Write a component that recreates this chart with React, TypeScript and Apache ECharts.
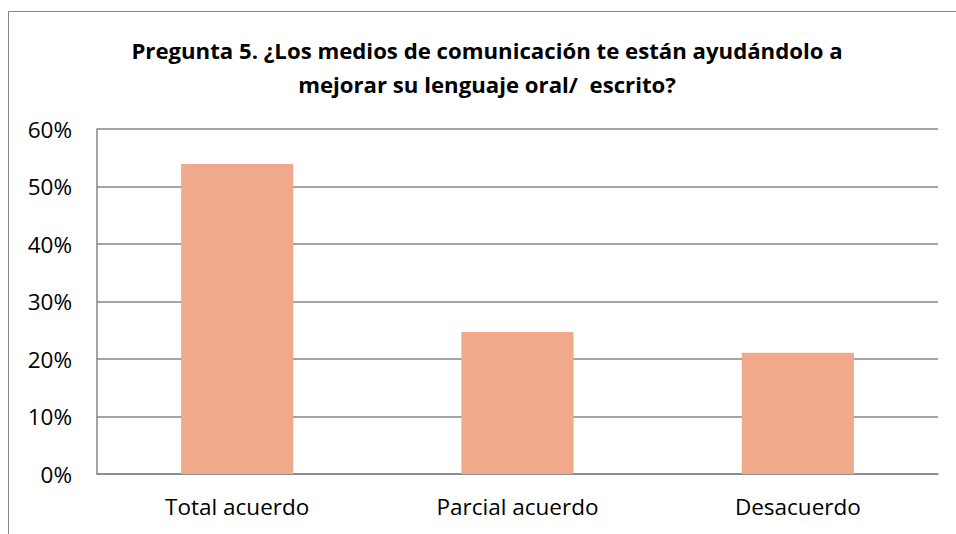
import React, { useEffect, useRef } from "react";
import * as echarts from "echarts";

const categories = ["Total acuerdo", "Parcial acuerdo", "Desacuerdo"];
const values = [53.9, 24.7, 21.1];
const titleText = "Pregunta 5. ¿Los medios de comunicación te están ayudándolo a\nmejorar su lenguaje oral/  escrito?";

export default function App() {
  const ref = useRef<HTMLDivElement>(null);
  useEffect(() => {
    if (!ref.current) return;
    const chart = echarts.init(ref.current, null, { renderer: "svg" });
    chart.setOption({
      animation: false,
      backgroundColor: "#ffffff",
      textStyle: { fontFamily: "Open Sans" },
      graphic: [
        {
          type: "rect",
          shape: { x: 8.5, y: 11.5, width: 1000, height: 600 },
          style: { fill: "none", stroke: "#868686", lineWidth: 1 },
          silent: true,
        },
        {
          type: "text",
          x: 487,
          y: 33,
          style: {
            text: titleText,
            align: "center",
            verticalAlign: "top",
            font: "bold 22.2px 'Open Sans'",
            lineHeight: 34,
            fill: "#000000",
          },
        },
      ],
      grid: { left: 97, right: 18, top: 129, bottom: 60, containLabel: false },
      xAxis: {
        type: "category",
        data: categories,
        axisLine: { show: true, lineStyle: { color: "#868686", width: 1.5 } },
        axisTick: { show: false },
        axisLabel: { color: "#000", fontSize: 22.5, margin: 21, fontFamily: "Open Sans" },
      },
      yAxis: {
        type: "value",
        min: 0,
        max: 60,
        interval: 10,
        axisLine: { show: true, lineStyle: { color: "#868686", width: 1.5 } },
        axisTick: { show: false },
        axisLabel: { color: "#000", fontSize: 22.5, margin: 25, formatter: "{value}%", fontFamily: "Open Sans" },
        splitLine: { show: true, lineStyle: { color: "#868686", width: 1.5 } },
      },
      series: [
        {
          type: "bar",
          data: values,
          barWidth: "40%",
          itemStyle: { color: "#F0A98A" },
        },
      ],
    });
    return () => chart.dispose();
  }, []);
  return <div ref={ref} style={{ position: "fixed", left: 0, top: 0, width: 956, height: 534 }} />;
}
